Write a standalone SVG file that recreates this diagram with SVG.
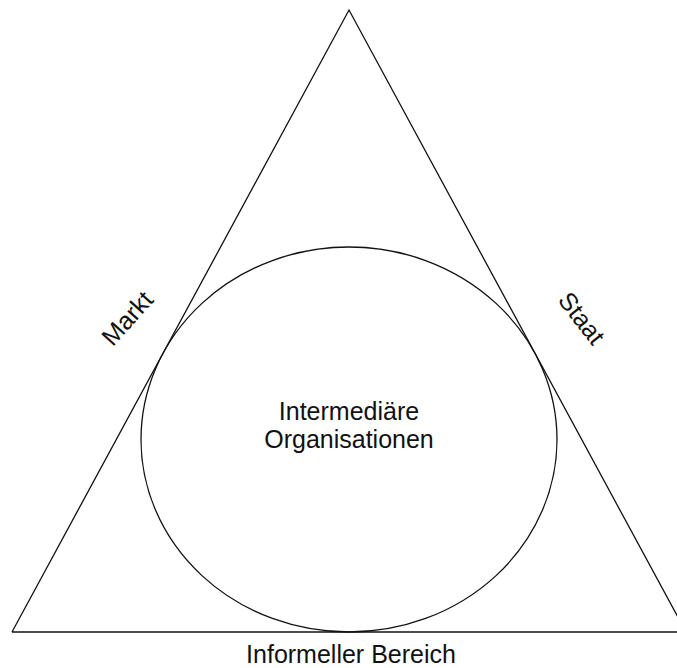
<svg xmlns="http://www.w3.org/2000/svg" width="677" height="668" viewBox="0 0 677 668">
  <style>
    .shape { fill: none; stroke: #111; stroke-width: 1.3; }
    .label { font-family: "Liberation Sans", Arial, sans-serif; font-size: 25px; fill: #111; text-anchor: middle; }
  </style>
  <rect width="677" height="668" fill="#fff"/>
  <g id="connectors">
    <!-- triangle sides -->
    <path class="shape" d="M12,632 L349,10 L686,632"/>
    <line class="shape" x1="12" y1="632" x2="677" y2="632"/>
  </g>
  <g id="intermediaere">
    <ellipse class="shape" cx="349" cy="439.5" rx="208" ry="192.5"/>
    <text class="label" x="349" y="420">Intermediäre</text>
    <text class="label" x="349" y="448">Organisationen</text>
  </g>
  <g id="markt">
    <text class="label" transform="translate(127,318) rotate(-48)" x="0" y="9">Markt</text>
  </g>
  <g id="staat">
    <text class="label" transform="translate(582,318) rotate(52)" x="0" y="9">Staat</text>
  </g>
  <g id="informell">
    <text class="label" x="351" y="663">Informeller Bereich</text>
  </g>
</svg>
